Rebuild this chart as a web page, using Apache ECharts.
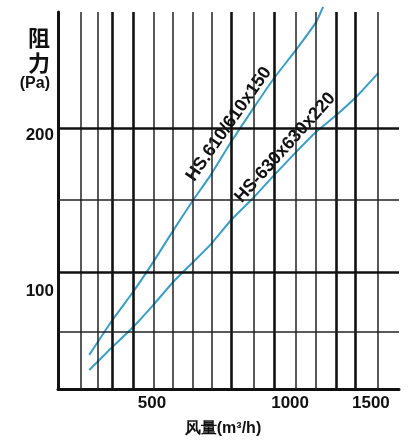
<!DOCTYPE html>
<html>
<head>
<meta charset="utf-8">
<script src="https://cdn.jsdelivr.net/npm/echarts@6/dist/echarts.min.js"></script>
<style>
html, body { margin: 0; padding: 0; background: #fff; }
#main { width: 420px; height: 444px; }
</style>
</head>
<body>
<div id="main"></div>
<script>
// 风量 (m3/h) / 阻力 (Pa)
var flow_a = [365, 410, 455, 503, 556, 615, 670, 744, 835, 923, 1030, 1139, 1180];
var pres_a = [75.7, 88.3, 100, 114, 131, 150, 167, 194, 226, 257, 291, 329, 352];
var flow_b = [365, 410, 455, 503, 556, 615, 670, 744, 835, 923, 1030, 1139, 1260, 1392, 1556];
var pres_b = [70.8, 78.4, 85.6, 94.3, 104.4, 114.1, 123, 137.3, 152, 167.4, 185.3, 202.5, 218, 236.3, 262.7];
var name_a = 'HS.610/610x150';
var name_b = 'HS-630x630x220';
var xTicks = [500, 1000, 1500];
var yTicks = [100, 200];
// grid lines of the chart paper
var xLines = [350, 380, 410, 455, 505, 555, 615, 675, 745, 835, 925, 1030, 1140, 1260, 1390, 1555];
var xLinesBold = [410, 455, 745, 925, 1260, 1390];
var yLines = [206, 150, 109, 84];
var yLinesBold = [206, 109];

function pairs(xs, ys) {
    var out = [];
    for (var i = 0; i < xs.length; i++) out.push([xs[i], ys[i]]);
    return out;
}

var dataA = pairs(flow_a, pres_a);
var dataB = pairs(flow_b, pres_b);
// put the curve names on one point each
dataA[7] = {
    value: dataA[7],
    label: { show: true, formatter: name_a, rotate: 55, position: 'inside', offset: [13, -12] }
};
dataB[10] = {
    value: dataB[10],
    label: { show: true, formatter: name_b, rotate: 48, position: 'inside', offset: [-4, -11] }
};

var gridMarks = [];
xLines.forEach(function (v) {
    var bold = xLinesBold.indexOf(v) >= 0;
    gridMarks.push({ xAxis: v, lineStyle: { width: bold ? 2.6 : 1.5, color: bold ? '#111' : '#222' } });
});
yLines.forEach(function (v) {
    var bold = yLinesBold.indexOf(v) >= 0;
    gridMarks.push({ yAxis: v, lineStyle: { width: bold ? 2.6 : 1.5, color: bold ? '#111' : '#222' } });
});

var curveLabel = {
    show: false,
    color: '#111',
    fontFamily: 'Liberation Sans',
    fontWeight: 'bold',
    fontSize: 18
};

var myChart = echarts.init(document.getElementById('main'));
var option = {
    animation: false,
    grid: { left: 58, right: 21, top: 12, bottom: 55 },
    xAxis: {
        type: 'log',
        logBase: 10,
        min: 312,
        max: 1727,
        name: '风量(m³/h)',
        nameLocation: 'middle',
        nameGap: 32,
        nameTextStyle: {
            color: '#111', fontFamily: 'Liberation Sans', fontWeight: 'bold', fontSize: 16,
            padding: [0, 11, 0, 0]
        },
        axisLine: { lineStyle: { color: '#111', width: 3 } },
        axisTick: { show: false },
        splitLine: { show: false },
        axisLabel: {
            customValues: xTicks,
            formatter: function (v) { return String(v); },
            margin: 6,
            color: '#111',
            fontFamily: 'Liberation Sans',
            fontWeight: 'bold',
            fontSize: 17
        }
    },
    yAxis: {
        type: 'log',
        logBase: 10,
        min: 65.1,
        max: 344,
        name: '{big|阻}\n{big|力}\n{sm|(Pa)}',
        nameLocation: 'end',
        nameGap: -81,
        nameTextStyle: {
            align: 'right',
            verticalAlign: 'bottom',
            padding: [0, 8, 0, 0],
            rich: {
                big: { fontSize: 22, fontWeight: 'bold', color: '#111', lineHeight: 25, fontFamily: 'Noto Sans CJK SC' },
                sm: { fontSize: 16, fontWeight: 'bold', color: '#111', lineHeight: 18, fontFamily: 'Liberation Sans' }
            }
        },
        axisLine: { lineStyle: { color: '#111', width: 3 } },
        axisTick: { show: false },
        splitLine: { show: false },
        axisLabel: {
            customValues: yTicks,
            formatter: function (v) { return String(v); },
            margin: 4,
            color: '#111',
            fontFamily: 'Liberation Sans',
            fontWeight: 'bold',
            fontSize: 17
        }
    },
    series: [
        {
            type: 'line',
            data: [],
            silent: true,
            z: 1,
            markLine: {
                silent: true,
                symbol: ['none', 'none'],
                label: { show: false },
                lineStyle: { type: 'solid' },
                data: gridMarks
            }
        },
        {
            name: name_a,
            type: 'line',
            data: dataA,
            z: 3,
            clip: false,
            smooth: 0.15,
            showSymbol: true,
            symbol: 'circle',
            symbolSize: 0,
            lineStyle: { color: '#3a9ec4', width: 2 },
            itemStyle: { color: '#3a9ec4' },
            label: curveLabel
        },
        {
            name: name_b,
            type: 'line',
            data: dataB,
            z: 3,
            clip: false,
            smooth: 0.15,
            showSymbol: true,
            symbol: 'circle',
            symbolSize: 0,
            lineStyle: { color: '#3a9ec4', width: 2 },
            itemStyle: { color: '#3a9ec4' },
            label: curveLabel
        }
    ]
};
myChart.setOption(option);
</script>
</body>
</html>
